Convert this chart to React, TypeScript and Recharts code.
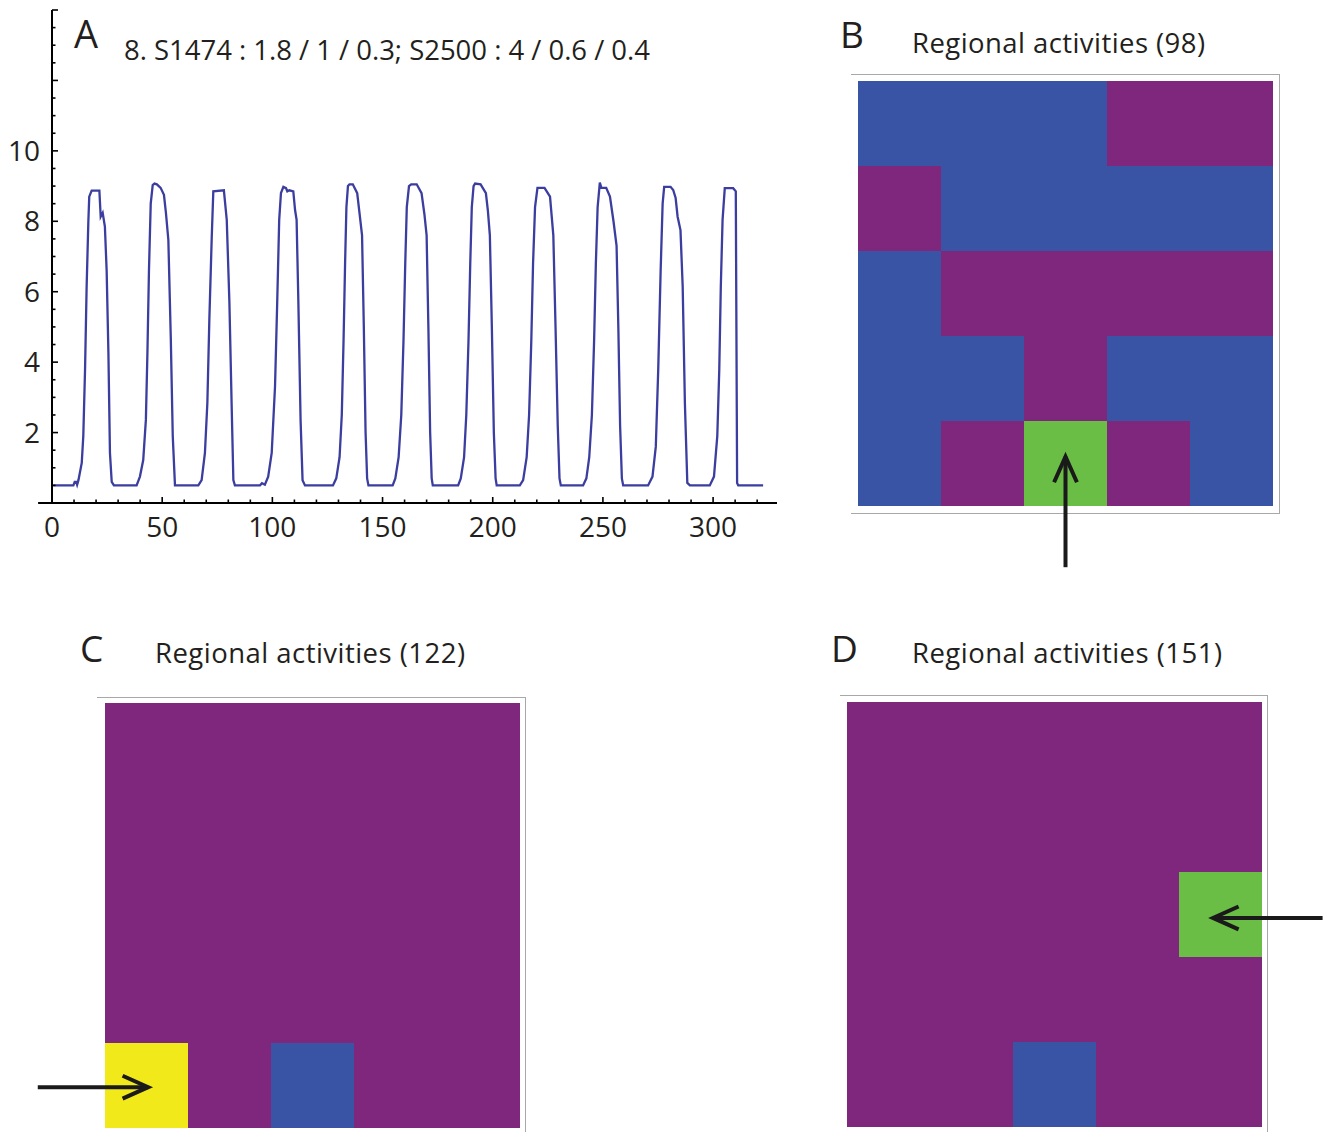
import { LineChart, Line, XAxis, YAxis, ReferenceLine, BarChart, Bar, Cell } from "recharts";

// panel A: activity trace, [time, value] pairs read per pulse
const pulse1 = [[0.6, 0.5], [9.7, 0.5], [10.3, 0.6], [11, 0.6], [11.4, 0.52], [12, 0.65], [13.5, 1.14], [14.2, 1.9], [15, 3.8], [15.7, 6.1], [16.5, 8.0], [16.9, 8.7], [18, 8.87], [21.5, 8.87], [22.1, 8.13], [23, 8.24], [24, 7.85], [24.8, 6.6], [25.6, 4.26], [26.3, 1.42], [27.1, 0.6], [28.1, 0.5]];
const pulse2 = [[38.4, 0.5], [39.9, 0.75], [41.4, 1.22], [42.6, 2.36], [43.3, 4.26], [44, 6.6], [44.8, 8.5], [45.7, 9.03], [46.5, 9.07], [47.6, 9.05], [49.3, 8.95], [50.8, 8.75], [51.7, 8.24], [52.8, 7.47], [53.9, 4.7], [54.8, 1.9], [55.8, 0.5]];
const pulse3 = [[66.4, 0.5], [67.9, 0.65], [69.4, 1.42], [70.5, 2.84], [71.4, 5.2], [72.5, 7.57], [73.2, 8.85], [78, 8.88], [79.3, 8.04], [80.5, 5.7], [81.5, 2.84], [82.3, 0.65], [83, 0.5]];
const pulse4 = [[94.4, 0.5], [95.3, 0.56], [96.6, 0.52], [98.1, 0.75], [99.7, 1.42], [101.2, 3.3], [102.2, 5.7], [103.1, 8.04], [103.9, 8.8], [105, 8.98], [106.2, 8.94], [106.8, 8.85], [107.7, 8.88], [109.5, 8.85], [110.3, 8.32], [111, 8.04], [111.8, 5.7], [112.8, 2.36], [113.7, 0.65], [114.8, 0.5]];
const pulse5 = [[127.5, 0.5], [129, 0.7], [130.5, 1.3], [131.5, 2.5], [132.3, 4.6], [133, 6.8], [133.6, 8.4], [134.3, 9.0], [135, 9.05], [136.5, 9.05], [138.5, 8.8], [139.6, 8.2], [140.7, 7.6], [141.5, 5.0], [142.3, 2.0], [143, 0.7], [143.6, 0.5]];
const pulse6 = [[154.6, 0.5], [155.8, 0.7], [157.3, 1.3], [158.5, 2.5], [159.5, 4.6], [160.3, 6.8], [161, 8.4], [162, 9.0], [163, 9.05], [165.5, 9.05], [167.7, 8.8], [169, 8.2], [170, 7.6], [170.8, 5.0], [171.6, 2.0], [172.3, 0.7], [172.8, 0.5]];
const pulse7 = [[184.3, 0.5], [185.5, 0.7], [187, 1.3], [188, 2.5], [189, 4.6], [189.8, 6.8], [190.5, 8.4], [191.3, 9.0], [192, 9.07], [194.5, 9.05], [196.9, 8.8], [197.8, 8.3], [198.7, 7.6], [199.6, 5.0], [200.5, 2.0], [201.3, 0.7], [201.8, 0.5]];
const pulse8 = [[212.3, 0.5], [213.8, 0.65], [215.4, 1.3], [216.5, 2.5], [217.5, 4.6], [218.3, 6.8], [219.2, 8.4], [220.3, 8.95], [223.5, 8.95], [224.5, 8.85], [226, 8.7], [227.5, 7.6], [228.5, 5.0], [229.5, 2.2], [230.3, 0.7], [230.9, 0.5]];
const pulse9 = [[241, 0.5], [242.5, 0.7], [243.8, 1.3], [245, 2.5], [246, 4.6], [246.8, 6.8], [247.6, 8.4], [248.6, 9.1], [249.3, 8.95], [251.5, 8.95], [253.2, 8.7], [254.8, 8.0], [256.2, 7.3], [257, 5.0], [257.8, 2.2], [258.6, 0.7], [259.2, 0.5]];
const pulse10 = [[270.5, 0.5], [272.5, 0.75], [274, 1.6], [275.1, 3.78], [276.2, 6.6], [277.1, 8.5], [277.8, 8.98], [280.7, 8.98], [281.9, 8.89], [283, 8.66], [283.9, 8.13], [285.2, 7.75], [286.2, 6.15], [287.2, 2.84], [288.3, 0.57], [289.5, 0.5]];
const pulse11 = [[298.5, 0.5], [300.4, 0.75], [301.9, 1.9], [302.8, 3.78], [303.5, 6.15], [304.3, 8.04], [305.3, 8.94], [309.1, 8.94], [310.3, 8.85], [310.9, 0.57], [311.4, 0.5], [322.7, 0.5]];

const xTicks = [0, 10, 20, 30, 40, 50, 60, 70, 80, 90, 100, 110, 120, 130, 140, 150, 160, 170, 180, 190, 200, 210, 220, 230, 240, 250, 260, 270, 280, 290, 300, 310, 320];
const xLabels = [0, 50, 100, 150, 200, 250, 300];
const yTicks = [0.5, 1, 1.5, 2, 2.5, 3, 3.5, 4, 4.5, 5, 5.5, 6, 6.5, 7, 7.5, 8, 8.5, 9, 9.5, 10, 10.5, 11, 11.5, 12, 12.5, 13, 13.5, 14];
const yLabels = [2, 4, 6, 8, 10];

// panels B-D: 5x5 regional states, rows listed top to bottom
const gridB = [
  ["b", "b", "b", "p", "p"],
  ["p", "b", "b", "b", "b"],
  ["b", "p", "p", "p", "p"],
  ["b", "b", "p", "b", "b"],
  ["b", "p", "g", "p", "b"],
];
const gridC = [
  ["p", "p", "p", "p", "p"],
  ["p", "p", "p", "p", "p"],
  ["p", "p", "p", "p", "p"],
  ["p", "p", "p", "p", "p"],
  ["y", "p", "b", "p", "p"],
];
const gridD = [
  ["p", "p", "p", "p", "p"],
  ["p", "p", "p", "p", "p"],
  ["p", "p", "p", "p", "g"],
  ["p", "p", "p", "p", "p"],
  ["p", "p", "b", "p", "p"],
];

const stateColors: Record<string, string> = { b: "#3953a5", p: "#7e277c", g: "#6abd45", y: "#f2e91a" };
const ink = "#231f20";
const font = "'Open Sans', sans-serif";

const trace = [pulse1, pulse2, pulse3, pulse4, pulse5, pulse6, pulse7, pulse8, pulse9, pulse10, pulse11]
  .flat()
  .map(([t, v]) => ({ t, v }));

function XTick({ x, y, payload }: any) {
  const major = xLabels.includes(payload.value);
  return (
    <g>
      <line x1={x} x2={x} y1={y} y2={y - (major ? 6 : 3.5)} stroke="#000" strokeWidth={1.6} />
      {major && (
        <text x={x} y={y + 34} textAnchor="middle" fontSize={28} fill={ink} fontFamily={font}>
          {payload.value}
        </text>
      )}
    </g>
  );
}

function YTick({ x, y, payload }: any) {
  const major = payload.value % 2 === 0;
  return (
    <g>
      <line x1={x} x2={x + (major ? 6 : 3.5)} y1={y} y2={y} stroke="#000" strokeWidth={1.6} />
      {yLabels.includes(payload.value) && (
        <text x={x - 12} y={y} dy="0.36em" textAnchor="end" fontSize={28} fill={ink} fontFamily={font}>
          {payload.value}
        </text>
      )}
    </g>
  );
}

function Arrow({ x1, y1, x2, y2 }: any) {
  const a = Math.atan2(y2 - y1, x2 - x1);
  const len = 28;
  const spread = 0.42;
  const p1 = [x2 - len * Math.cos(a - spread), y2 - len * Math.sin(a - spread)];
  const p2 = [x2 - len * Math.cos(a + spread), y2 - len * Math.sin(a + spread)];
  return (
    <g stroke="#1a1a1a" strokeWidth={4} fill="none">
      <line x1={x1} y1={y1} x2={x2} y2={y2} />
      <polyline points={`${p1[0]},${p1[1]} ${x2},${y2} ${p2[0]},${p2[1]}`} strokeLinejoin="miter" />
    </g>
  );
}

type GridProps = {
  grid: string[][];
  left: number;
  top: number;
  width: number;
  height: number;
  margin: { top: number; right: number; bottom: number; left: number };
  arrow: { x: number; y: number }[];
};

function RegionGrid({ grid, left, top, width, height, margin, arrow }: GridProps) {
  const cols = grid[0].map((_, c) => {
    const row: Record<string, number> = { col: c };
    grid.forEach((_, k) => (row[`r${k}`] = 1));
    return row;
  });
  return (
    <div style={{ position: "absolute", left, top }}>
      <BarChart width={width} height={height} data={cols} margin={margin} barCategoryGap={0} barGap={0}>
        <XAxis dataKey="col" hide />
        <XAxis xAxisId="num" dataKey="col" type="number" domain={[0, 5]} hide allowDataOverflow />
        <YAxis type="number" domain={[0, 5]} hide />
        {grid.map((_, k) => (
          <Bar key={k} dataKey={`r${k}`} stackId="g" isAnimationActive={false}>
            {cols.map((_, c) => (
              <Cell key={c} fill={stateColors[grid[grid.length - 1 - k][c]]} />
            ))}
          </Bar>
        ))}
        <ReferenceLine xAxisId="num" segment={arrow} ifOverflow="visible" shape={(p: any) => <Arrow {...p} />} />
      </BarChart>
    </div>
  );
}

function Frame({ left, top, width, height }: { left: number; top: number; width: number; height: number }) {
  const edge = "1.5px solid #a8a8a8";
  return (
    <div style={{ position: "absolute", left, top, width, height, borderTop: edge, borderRight: edge, borderBottom: edge, boxSizing: "border-box" }} />
  );
}

export default function App() {
  return (
    <div style={{ position: "absolute", left: 0, top: 0, width: 1324, height: 1132, background: "#fff", overflow: "hidden" }}>
      <div style={{ position: "absolute", left: 0, top: 0 }}>
        <LineChart width={800} height={560} data={trace} margin={{ top: 10, right: 23, left: 12, bottom: 12 }}>
          <XAxis
            dataKey="t"
            type="number"
            domain={[0, 329]}
            ticks={xTicks}
            interval={0}
            axisLine={false}
            tickLine={false}
            tickSize={0}
            tickMargin={0}
            height={45}
            tick={(p: any) => <XTick {...p} />}
          />
          <YAxis
            type="number"
            domain={[0, 14]}
            ticks={yTicks}
            interval={0}
            axisLine={{ stroke: "#000", strokeWidth: 2 }}
            tickLine={false}
            tickSize={0}
            tickMargin={0}
            width={40}
            tick={(p: any) => <YTick {...p} />}
          />
          <ReferenceLine
            segment={[{ x: -6.3, y: 0 }, { x: 329, y: 0 }]}
            ifOverflow="visible"
            stroke="#000"
            strokeWidth={2}
          />
          <Line type="linear" dataKey="v" stroke="#3b3d9f" strokeWidth={2.3} dot={false} isAnimationActive={false} />
        </LineChart>
      </div>

      <Frame left={851} top={74} width={429} height={440} />
      <Frame left={97} top={697} width={429} height={440} />
      <Frame left={840} top={695} width={428} height={440} />

      <RegionGrid
        grid={gridB}
        left={850}
        top={73}
        width={430}
        height={500}
        margin={{ top: 8, right: 7, bottom: 67, left: 8 }}
        arrow={[{ x: 2.5, y: -0.72 }, { x: 2.5, y: 0.58 }]}
      />
      <RegionGrid
        grid={gridC}
        left={20}
        top={698}
        width={505}
        height={434}
        margin={{ top: 5, right: 5, bottom: 4, left: 85 }}
        arrow={[{ x: -0.81, y: 0.48 }, { x: 0.52, y: 0.48 }]}
      />
      <RegionGrid
        grid={gridD}
        left={840}
        top={694}
        width={484}
        height={438}
        margin={{ top: 8, right: 62, bottom: 5, left: 7 }}
        arrow={[{ x: 5.73, y: 2.46 }, { x: 4.41, y: 2.46 }]}
      />

      <svg width={1324} height={1132} style={{ position: "absolute", left: 0, top: 0, pointerEvents: "none" }} fontFamily={font} fill={ink}>
        <text x={74} y={48} fontSize={38}>A</text>
        <text x={124} y={60} fontSize={27.5} textLength={526} lengthAdjust="spacing">8. S1474 : 1.8 / 1 / 0.3; S2500 : 4 / 0.6 / 0.4</text>
        <text x={840} y={48} fontSize={37}>B</text>
        <text x={912} y={53} fontSize={27.5} textLength={293} lengthAdjust="spacing">Regional activities (98)</text>
        <text x={80} y={662} fontSize={37}>C</text>
        <text x={155} y={663} fontSize={27.5} textLength={310} lengthAdjust="spacing">Regional activities (122)</text>
        <text x={831} y={662} fontSize={37}>D</text>
        <text x={912} y={663} fontSize={27.5} textLength={310} lengthAdjust="spacing">Regional activities (151)</text>
      </svg>
    </div>
  );
}
